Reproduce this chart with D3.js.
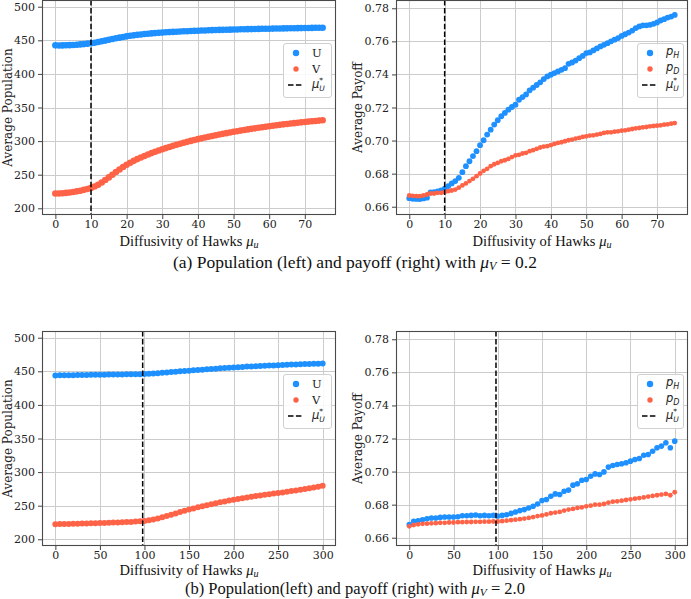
<!DOCTYPE html>
<html><head><meta charset="utf-8">
<script src="https://cdn.jsdelivr.net/npm/d3@7"></script>
<style>body{margin:0;background:#fff}</style>
</head><body>
<svg id="c" width="691" height="599" xmlns="http://www.w3.org/2000/svg"></svg>
<script>
// ---------- DATA ----------
const muTop = [0,1,2,3,4,5,6,7,8,9,10,11,12,13,14,15,16,17,18,19,20,21,22,23,24,25,26,27,28,29,30,31,32,33,34,35,36,37,38,39,40,41,42,43,44,45,46,47,48,49,50,51,52,53,54,55,56,57,58,59,60,61,62,63,64,65,66,67,68,69,70,71,72,73,74,75];
const muBottom = [0,5,10,15,20,25,30,35,40,45,50,55,60,65,70,75,80,85,90,95,100,105,110,115,120,125,130,135,140,145,150,155,160,165,170,175,180,185,190,195,200,205,210,215,220,225,230,235,240,245,250,255,260,265,270,275,280,285,290,295,300];

const popU_a = [442.5,442.3,442.4,442.6,442.8,443.1,443.5,443.9,444.4,445.0,445.6,446.4,447.4,448.5,449.6,450.8,451.9,453.0,454.0,455.0,455.9,456.7,457.4,458.1,458.7,459.3,459.8,460.3,460.7,461.1,461.5,461.9,462.2,462.5,462.8,463.1,463.4,463.6,463.9,464.1,464.3,464.5,464.7,464.9,465.1,465.3,465.5,465.6,465.8,465.9,466.1,466.2,466.4,466.5,466.6,466.7,466.8,467.0,467.1,467.2,467.3,467.4,467.5,467.6,467.7,467.8,467.9,468.0,468.1,468.2,468.3,468.4,468.5,468.6,468.7,468.8];
const popV_a = [222.0,222.1,222.4,222.9,223.5,224.3,225.2,226.2,227.4,228.7,230.3,232.4,235.1,238.4,242.0,246.0,250.0,254.0,257.8,261.4,264.8,267.8,270.6,273.2,275.6,277.9,280.0,282.1,284.1,286.0,287.9,289.6,291.3,292.9,294.5,296.0,297.5,298.9,300.3,301.6,302.9,304.1,305.3,306.5,307.6,308.7,309.8,310.8,311.8,312.8,313.8,314.7,315.6,316.5,317.4,318.2,319.0,319.8,320.6,321.4,322.1,322.8,323.5,324.2,324.9,325.5,326.1,326.7,327.3,327.9,328.5,329.0,329.5,330.0,330.5,331.0];
const payH_a = [0.6652,0.6648,0.6647,0.6646,0.6650,0.6655,0.6686,0.6688,0.6692,0.6699,0.6709,0.6725,0.6741,0.6755,0.6775,0.6809,0.6845,0.6875,0.6906,0.6936,0.6972,0.7002,0.7036,0.7066,0.7097,0.7123,0.7147,0.7167,0.7187,0.7203,0.7217,0.7247,0.7263,0.7279,0.7304,0.7320,0.7336,0.7352,0.7372,0.7388,0.7398,0.7408,0.7418,0.7428,0.7438,0.7464,0.7472,0.7484,0.7498,0.7512,0.7529,0.7533,0.7545,0.7557,0.7569,0.7579,0.7589,0.7600,0.7610,0.7620,0.7633,0.7643,0.7653,0.7665,0.7680,0.7690,0.7697,0.7697,0.7700,0.7706,0.7714,0.7726,0.7734,0.7744,0.7750,0.7760];
const payD_a = [0.6668,0.6666,0.6664,0.6664,0.6668,0.6674,0.6680,0.6680,0.6684,0.6684,0.6688,0.6694,0.6698,0.6704,0.6715,0.6729,0.6741,0.6755,0.6769,0.6785,0.6801,0.6817,0.6829,0.6845,0.6857,0.6865,0.6875,0.6881,0.6889,0.6900,0.6910,0.6914,0.6922,0.6926,0.6936,0.6942,0.6950,0.6958,0.6964,0.6966,0.6972,0.6980,0.6986,0.6990,0.6996,0.7002,0.7006,0.7012,0.7016,0.7022,0.7026,0.7030,0.7032,0.7036,0.7040,0.7046,0.7050,0.7050,0.7054,0.7056,0.7060,0.7062,0.7066,0.7070,0.7074,0.7076,0.7080,0.7082,0.7086,0.7088,0.7090,0.7092,0.7096,0.7098,0.7102,0.7106];

const popU_b = [443.8,444.0,444.1,444.2,444.3,444.4,444.5,444.6,444.7,444.8,444.9,445.0,445.1,445.2,445.3,445.4,445.5,445.6,445.7,445.8,446.0,446.3,446.7,447.2,447.7,448.2,448.8,449.4,450.0,450.5,451.0,451.5,452.0,452.5,453.0,453.5,454.0,454.5,455.0,455.4,455.8,456.2,456.6,457.0,457.3,457.6,457.9,458.2,458.5,458.8,459.1,459.4,459.7,460.0,460.3,460.5,460.8,461.0,461.2,461.4,461.8];
const popV_b = [222.5,222.6,222.7,222.9,223.0,223.2,223.4,223.6,223.8,224.0,224.2,224.4,224.6,224.8,225.0,225.3,225.6,225.9,226.3,226.7,227.3,228.2,229.5,231.0,232.7,234.5,236.5,238.5,240.5,242.5,244.3,246.0,247.6,249.2,250.7,252.2,253.6,255.0,256.3,257.6,258.8,260.0,261.1,262.2,263.3,264.3,265.3,266.3,267.2,268.0,268.7,269.7,270.7,271.7,272.7,273.7,274.8,275.9,277.0,278.1,279.5];
const payH_b = [0.6679,0.6699,0.6703,0.6709,0.6715,0.6719,0.6719,0.6723,0.6725,0.6725,0.6725,0.6727,0.6733,0.6733,0.6735,0.6737,0.6733,0.6735,0.6733,0.6735,0.6731,0.6735,0.6739,0.6747,0.6756,0.6764,0.6770,0.6780,0.6790,0.6804,0.6825,0.6831,0.6851,0.6865,0.6861,0.6881,0.6888,0.6918,0.6926,0.6948,0.6952,0.6972,0.6986,0.6982,0.6998,0.7027,0.7037,0.7043,0.7047,0.7053,0.7063,0.7073,0.7079,0.7099,0.7103,0.7123,0.7144,0.7154,0.7174,0.7144,0.7184];
const payD_b = [0.6669,0.6677,0.6681,0.6684,0.6685,0.6687,0.6688,0.6690,0.6690,0.6692,0.6692,0.6694,0.6694,0.6695,0.6695,0.6696,0.6696,0.6697,0.6697,0.6698,0.6698,0.6700,0.6703,0.6706,0.6709,0.6712,0.6716,0.6720,0.6725,0.6731,0.6735,0.6741,0.6748,0.6752,0.6756,0.6764,0.6770,0.6774,0.6780,0.6784,0.6790,0.6794,0.6800,0.6800,0.6804,0.6812,0.6818,0.6820,0.6824,0.6828,0.6832,0.6836,0.6840,0.6844,0.6849,0.6853,0.6857,0.6861,0.6865,0.6857,0.6875];

const muStar_a = 10;
const muStar_b = 98;

const xTicksTop = [0,10,20,30,40,50,60,70];
const xTicksBottom = [0,50,100,150,200,250,300];
const yTicksPop = [200,250,300,350,400,450,500];
const yTicksPay = [0.66,0.68,0.70,0.72,0.74,0.76,0.78];

const colU = "#1E90FF", colV = "#FF6347";

// ---------- DRAW ----------
const svg = d3.select("#c");
const SERIF = "'DejaVu Serif', serif";
const CAPF = "'Liberation Serif', 'DejaVu Serif', serif";
const SANS = "'DejaVu Sans', sans-serif";

const panels = [
  {x0:42, x1:336, y0:0, y1:215, xdom:[-3.75,78.75], ydom:[190,510], xs:muTop, s1:popU_a, s2:popV_a, xlo:30.5,
   xt:xTicksTop, yt:yTicksPop, fmt:d3.format("d"), star:muStar_a, ylab:"Average Population", leg:"pop", r1:3.3, r2:3.3},
  {x0:396, x1:688, y0:0, y1:215, xdom:[-3.75,78.75], ydom:[0.655,0.785], xs:muTop, s1:payH_a, s2:payD_a, xlo:30.5,
   xt:xTicksTop, yt:yTicksPay, fmt:d3.format(".2f"), star:muStar_a, ylab:"Average Payoff", leg:"pay", r1:2.9, r2:2.4},
  {x0:42, x1:336, y0:331, y1:546, xdom:[-15,315], ydom:[190,510], xs:muBottom, s1:popU_b, s2:popV_b, xlo:28.5,
   xt:xTicksBottom, yt:yTicksPop, fmt:d3.format("d"), star:muStar_b, ylab:"Average Population", leg:"pop", r1:3.0, r2:3.0},
  {x0:396, x1:688, y0:331, y1:546, xdom:[-15,315], ydom:[0.655,0.785], xs:muBottom, s1:payH_b, s2:payD_b, xlo:28.5,
   xt:xTicksBottom, yt:yTicksPay, fmt:d3.format(".2f"), star:muStar_b, ylab:"Average Payoff", leg:"pay", r1:2.8, r2:2.4}
];

function muLabel(sel, subText, size) {
  sel.append("tspan").attr("font-style","italic").text("μ");
  sel.append("tspan").attr("font-style","italic").attr("font-size", size*0.7).attr("dy", 2.5).text(subText);
}

panels.forEach((p, i) => {
  const g = svg.append("g");
  const x = d3.scaleLinear().domain(p.xdom).range([p.x0, p.x1]);
  const y = d3.scaleLinear().domain(p.ydom).range([p.y1, p.y0]);
  const cp = "clip" + i;
  svg.append("clipPath").attr("id", cp).append("rect")
    .attr("x", p.x0).attr("y", p.y0).attr("width", p.x1 - p.x0).attr("height", p.y1 - p.y0);

  // grid
  g.append("g").selectAll("line").data(p.xt).join("line")
    .attr("x1", d => Math.round(x(d)) + 0.5).attr("x2", d => Math.round(x(d)) + 0.5)
    .attr("y1", p.y0).attr("y2", p.y1).attr("stroke", "#cccccc").attr("stroke-width", 1);
  g.append("g").selectAll("line").data(p.yt).join("line")
    .attr("y1", d => Math.round(y(d)) + 0.5).attr("y2", d => Math.round(y(d)) + 0.5)
    .attr("x1", p.x0).attr("x2", p.x1).attr("stroke", "#cccccc").attr("stroke-width", 1);

  // points
  const pts = g.append("g").attr("clip-path", `url(#${cp})`);
  pts.selectAll("circle.s1").data(p.xs.map((v, k) => [v, p.s1[k]])).join("circle").attr("class","s1")
    .attr("cx", d => x(d[0])).attr("cy", d => y(d[1])).attr("r", p.r1).attr("fill", colU);
  pts.selectAll("circle.s2").data(p.xs.map((v, k) => [v, p.s2[k]])).join("circle").attr("class","s2")
    .attr("cx", d => x(d[0])).attr("cy", d => y(d[1])).attr("r", p.r2).attr("fill", colV);

  // dashed mu*
  g.append("line").attr("x1", x(p.star)).attr("x2", x(p.star)).attr("y1", p.y0).attr("y2", p.y1)
    .attr("stroke", "#000").attr("stroke-width", 1.5).attr("stroke-dasharray", "5.5,2.4");

  // axes
  const ax = g.append("g").attr("transform", `translate(0,${p.y1})`)
    .call(d3.axisBottom(x).tickValues(p.xt).tickSize(4).tickPadding(1.5).tickFormat(d3.format("d")));
  const ay = g.append("g").attr("transform", `translate(${p.x0},0)`)
    .call(d3.axisLeft(y).tickValues(p.yt).tickSize(4).tickPadding(3).tickFormat(p.fmt));
  [ax, ay].forEach(a => {
    a.select(".domain").remove();
    a.selectAll(".tick line").attr("stroke", "#444");
    a.selectAll(".tick text").attr("font-family", SERIF).attr("font-size", 11).attr("fill", "#222");
  });

  // spines
  g.append("rect").attr("x", p.x0 + 0.5).attr("y", p.y0 + 0.5).attr("width", p.x1 - p.x0 - 1).attr("height", p.y1 - p.y0 - 1)
    .attr("fill", "none").attr("stroke", "#4a4a4a").attr("stroke-width", 1.1);

  // y label
  g.append("text").attr("transform", `translate(${p.leg==="pay" ? p.x0 - 38 : 8},${(p.y0 + p.y1)/2}) rotate(-90)`)
    .attr("text-anchor", "middle").attr("dy", "0.35em").attr("font-family", SERIF).attr("font-size", 12).attr("fill", "#222")
    .text(p.ylab);

  // x label
  const xl = g.append("text").attr("x", (p.x0 + p.x1)/2).attr("y", p.y1 + p.xlo).attr("text-anchor", "middle")
    .attr("font-family", CAPF).attr("font-size", 14.5).attr("fill", "#111");
  xl.append("tspan").text("Diffusivity of Hawks ");
  muLabel(xl, "u", 14.5);

  // legend
  const bw = p.leg === "pay" ? 46 : 48, bh = 54;
  const bx = p.x1 - 5 - bw, by = p.y0 + 43;
  const lg = g.append("g");
  lg.append("rect").attr("x", bx + 0.5).attr("y", by + 0.5).attr("width", bw).attr("height", bh).attr("rx", 2.5)
    .attr("fill", "#fff").attr("fill-opacity", 0.85).attr("stroke", "#d0d0d0").attr("stroke-width", 1);
  const mx = bx + 13, tx = bx + 29;
  const rows = [by + 10, by + 26, by + 42];
  lg.append("circle").attr("cx", mx).attr("cy", rows[0]).attr("r", 3.2).attr("fill", colU);
  lg.append("circle").attr("cx", mx).attr("cy", rows[1]).attr("r", 2.7).attr("fill", colV);
  lg.append("line").attr("x1", mx - 8).attr("x2", mx + 7).attr("y1", rows[2]).attr("y2", rows[2])
    .attr("stroke", "#000").attr("stroke-width", 1.5).attr("stroke-dasharray", "5.5,2.4");
  if (p.leg === "pop") {
    lg.append("text").attr("x", tx).attr("y", rows[0]).attr("dy", "0.36em").attr("font-family", SERIF).attr("font-size", 11.5).attr("fill","#222").text("U");
    lg.append("text").attr("x", tx).attr("y", rows[1]).attr("dy", "0.36em").attr("font-family", SERIF).attr("font-size", 11.5).attr("fill","#222").text("V");
  } else {
    ["H","D"].forEach((s, k) => {
      const t = lg.append("text").attr("x", tx).attr("y", rows[k]).attr("dy", "0.2em").attr("font-family", SANS).attr("font-size", 11.5).attr("fill","#222");
      t.append("tspan").attr("font-style","italic").text("p");
      t.append("tspan").attr("font-style","italic").attr("font-size", 8).attr("dy", 2.5).text(s);
    });
  }
  const ts = lg.append("text").attr("x", tx).attr("y", rows[2]).attr("dy", "0.3em").attr("font-family", SANS).attr("font-size", 11.5).attr("fill","#222");
  ts.append("tspan").attr("font-style","italic").text("μ");
  ts.append("tspan").attr("font-size", 7.5).attr("dy", -5).text("*");
  ts.append("tspan").attr("font-style","italic").attr("font-size", 7.5).attr("dx", -3.8).attr("dy", 8).text("U");
});

// captions
function caption(yPos, size, pre, val) {
  const t = svg.append("text").attr("x", 355).attr("y", yPos).attr("text-anchor", "middle")
    .attr("font-family", CAPF).attr("font-size", size).attr("fill", "#111");
  t.append("tspan").text(pre);
  t.append("tspan").attr("font-style","italic").text("μ");
  t.append("tspan").attr("font-style","italic").attr("font-size", size*0.69).attr("dy", 2.3).text("V");
  t.append("tspan").attr("dy", -2.3).text(" = " + val);
}
caption(268, 17.5, "(a) Population (left) and payoff (right) with ", "0.2");
caption(594, 16.5, "(b) Population(left) and payoff (right) with ", "2.0");
</script>
</body></html>
